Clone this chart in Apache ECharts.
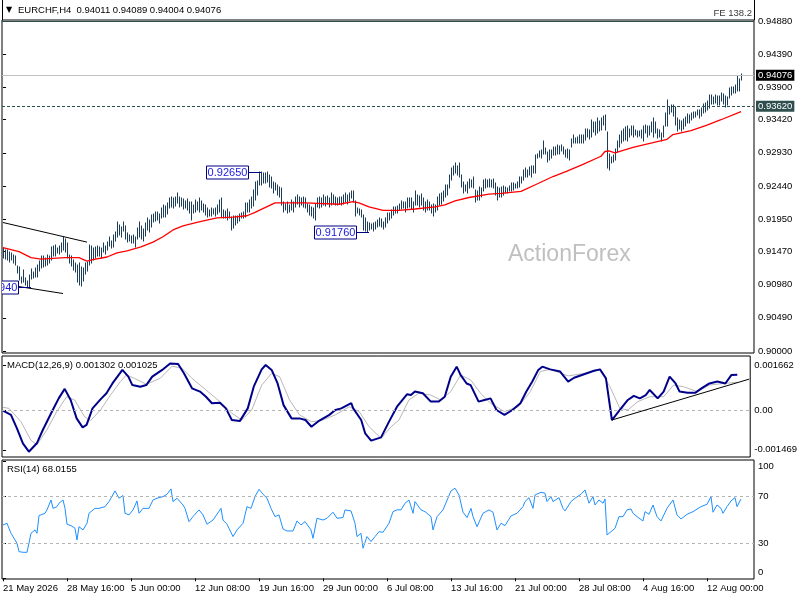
<!DOCTYPE html>
<html><head><meta charset="utf-8">
<script src="https://cdn.jsdelivr.net/npm/echarts@6/dist/echarts.min.js"></script>
<style>html,body{margin:0;padding:0;background:#fff}#c{width:800px;height:600px}</style>
</head><body><div id="c"></div>
<script>
// ---------------- data ----------------
const symbolName = 'EURCHF,H4';
const lastOHLC = ['0.94011', '0.94089', '0.94004', '0.94076'];
const macdTitle = 'MACD(12,26,9) 0.001302 0.001025';
const rsiTitle = 'RSI(14) 68.0155';
const watermark = 'ActionForex';

const timeLabels = ['21 May 2026', '28 May 16:00', '5 Jun 00:00', '12 Jun 08:00', '19 Jun 16:00', '29 Jun 00:00',
  '6 Jul 08:00', '13 Jul 16:00', '21 Jul 00:00', '28 Jul 08:00', '4 Aug 16:00', '12 Aug 00:00'];
const timeTickBars = [0, 32, 64, 96, 128, 160, 192, 224, 256, 288, 320, 352];
const priceTicks = [0.90000, 0.90490, 0.90980, 0.91470, 0.91950, 0.92440, 0.92930, 0.93420, 0.93900, 0.94390, 0.94880];
const macdTicks = [0.001662, 0, -0.001469];
const rsiTicks = [100, 70, 30, 0];
const rsiLevels = [70, 30];

const currentPrice = 0.94076;
const levelPrice = 0.93620;
const feLevel = 0.94880;
const feText = 'FE 138.2';

const barLow = [
0.9138,0.9136,0.9135,0.9132,0.9134,0.9130,0.9127,0.9115,0.9105,0.9100,
0.9102,0.9097,0.9095,0.9094,0.9106,0.9108,0.9110,0.9110,0.9118,0.9122,
0.9124,0.9126,0.9127,0.9130,0.9135,0.9141,0.9140,0.9145,0.9144,0.9146,
0.9150,0.9147,0.9138,0.9130,0.9126,0.9120,0.9117,0.9102,0.9097,0.9096,
0.9104,0.9114,0.9118,0.9127,0.9130,0.9135,0.9137,0.9140,0.9141,0.9138,
0.9146,0.9143,0.9149,0.9155,0.9152,0.9154,0.9163,0.9169,0.9172,0.9169,
0.9178,0.9165,0.9161,0.9163,0.9160,0.9159,0.9154,0.9166,0.9169,0.9166,
0.9163,0.9170,0.9179,0.9176,0.9183,0.9191,0.9192,0.9194,0.9190,0.9196,
0.9198,0.9198,0.9203,0.9211,0.9213,0.9211,0.9215,0.9219,0.9213,0.9214,
0.9210,0.9212,0.9208,0.9204,0.9194,0.9204,0.9206,0.9208,0.9206,0.9208,
0.9205,0.9201,0.9198,0.9200,0.9199,0.9203,0.9199,0.9202,0.9205,0.9198,
0.9196,0.9197,0.9194,0.9197,0.9179,0.9182,0.9186,0.9189,0.9192,0.9196,
0.9196,0.9198,0.9206,0.9206,0.9212,0.9215,0.9224,0.9230,0.9246,0.9246,
0.9248,0.9248,0.9250,0.9243,0.9241,0.9233,0.9238,0.9231,0.9228,0.9216,
0.9206,0.9209,0.9204,0.9206,0.9209,0.9206,0.9213,0.9218,0.9213,0.9216,
0.9213,0.9211,0.9206,0.9201,0.9199,0.9196,0.9194,0.9213,0.9211,0.9213,
0.9216,0.9215,0.9218,0.9213,0.9216,0.9218,0.9216,0.9216,0.9217,0.9216,
0.9218,0.9221,0.9218,0.9222,0.9226,0.9221,0.9200,0.9204,0.9201,0.9198,
0.9179,0.9178,0.9176,0.9179,0.9180,0.9178,0.9181,0.9184,0.9185,0.9184,
0.9180,0.9184,0.9189,0.9193,0.9196,0.9201,0.9204,0.9204,0.9208,0.9210,
0.9211,0.9206,0.9211,0.9213,0.9210,0.9206,0.9216,0.9216,0.9213,0.9216,
0.9209,0.9206,0.9209,0.9209,0.9204,0.9199,0.9206,0.9209,0.9216,0.9218,
0.9222,0.9228,0.9231,0.9241,0.9253,0.9260,0.9263,0.9260,0.9258,0.9243,
0.9233,0.9236,0.9233,0.9241,0.9243,0.9241,0.9221,0.9223,0.9223,0.9228,
0.9236,0.9241,0.9243,0.9242,0.9243,0.9241,0.9231,0.9223,0.9228,0.9228,
0.9231,0.9233,0.9233,0.9236,0.9236,0.9238,0.9241,0.9241,0.9243,0.9248,
0.9253,0.9258,0.9258,0.9260,0.9258,0.9263,0.9263,0.9285,0.9287,0.9285,
0.9292,0.9292,0.9280,0.9283,0.9286,0.9290,0.9290,0.9292,0.9291,0.9296,
0.9292,0.9287,0.9285,0.9283,0.9302,0.9307,0.9307,0.9308,0.9307,0.9308,
0.9307,0.9312,0.9316,0.9313,0.9317,0.9324,0.9319,0.9322,0.9325,0.9327,
0.9334,0.9327,0.9270,0.9268,0.9278,0.9280,0.9283,0.9295,0.9301,0.9307,
0.9310,0.9312,0.9310,0.9317,0.9320,0.9317,0.9320,0.9317,0.9318,0.9315,
0.9310,0.9322,0.9317,0.9320,0.9324,0.9317,0.9322,0.9315,0.9316,0.9311,
0.9317,0.9333,0.9332,0.9351,0.9353,0.9347,0.9334,0.9326,0.9329,0.9326,
0.9329,0.9333,0.9337,0.9337,0.9342,0.9344,0.9346,0.9349,0.9344,0.9348,
0.9352,0.9353,0.9356,0.9359,0.9366,0.9366,0.9367,0.9364,0.9364,0.9369,
0.9366,0.9361,0.9364,0.9374,0.9379,0.9381,0.9381,0.9384,0.9385,0.94004];

const barHigh = [
0.9152,0.9150,0.9149,0.9146,0.9145,0.9142,0.9140,0.9126,0.9124,0.9110,
0.9120,0.9108,0.9103,0.9112,0.9121,0.9117,0.9122,0.9127,0.9133,0.9140,
0.9141,0.9138,0.9142,0.9140,0.9154,0.9155,0.9157,0.9152,0.9155,0.9160,
0.9169,0.9165,0.9160,0.9142,0.9140,0.9135,0.9130,0.9127,0.9130,0.9124,
0.9123,0.9130,0.9132,0.9157,0.9155,0.9152,0.9154,0.9155,0.9154,0.9152,
0.9160,0.9155,0.9161,0.9168,0.9163,0.9172,0.9176,0.9191,0.9187,0.9183,
0.9191,0.9185,0.9175,0.9172,0.9170,0.9172,0.9169,0.9182,0.9191,0.9185,
0.9180,0.9190,0.9197,0.9193,0.9201,0.9203,0.9206,0.9206,0.9203,0.9212,
0.9216,0.9214,0.9219,0.9226,0.9228,0.9226,0.9228,0.9234,0.9228,0.9226,
0.9225,0.9222,0.9225,0.9220,0.9220,0.9216,0.9224,0.9220,0.9226,0.9222,
0.9218,0.9216,0.9211,0.9209,0.9211,0.9210,0.9211,0.9216,0.9223,0.9226,
0.9209,0.9207,0.9210,0.9205,0.9198,0.9200,0.9200,0.9199,0.9202,0.9204,
0.9205,0.9219,0.9219,0.9224,0.9228,0.9238,0.9250,0.9252,0.9265,0.9264,
0.9263,0.9263,0.9264,0.9260,0.9258,0.9250,0.9248,0.9246,0.9243,0.9241,
0.9221,0.9218,0.9221,0.9216,0.9223,0.9221,0.9228,0.9231,0.9228,0.9226,
0.9228,0.9226,0.9218,0.9216,0.9213,0.9211,0.9218,0.9226,0.9228,0.9226,
0.9231,0.9228,0.9229,0.9226,0.9233,0.9231,0.9228,0.9226,0.9227,0.9228,
0.9231,0.9233,0.9231,0.9233,0.9236,0.9236,0.9222,0.9211,0.9210,0.9209,
0.9201,0.9196,0.9191,0.9189,0.9188,0.9189,0.9191,0.9194,0.9196,0.9195,
0.9191,0.9196,0.9204,0.9204,0.9209,0.9213,0.9213,0.9214,0.9218,0.9222,
0.9221,0.9221,0.9226,0.9226,0.9226,0.9221,0.9236,0.9231,0.9229,0.9232,
0.9226,0.9221,0.9223,0.9221,0.9216,0.9217,0.9216,0.9228,0.9232,0.9234,
0.9236,0.9246,0.9246,0.9260,0.9270,0.9273,0.9278,0.9273,0.9278,0.9260,
0.9250,0.9246,0.9250,0.9255,0.9253,0.9258,0.9238,0.9236,0.9243,0.9241,
0.9253,0.9254,0.9253,0.9254,0.9253,0.9254,0.9248,0.9243,0.9241,0.9243,
0.9244,0.9243,0.9241,0.9244,0.9248,0.9248,0.9247,0.9250,0.9258,0.9258,
0.9268,0.9270,0.9267,0.9272,0.9274,0.9273,0.9290,0.9292,0.9296,0.9297,
0.9310,0.9300,0.9295,0.9297,0.9297,0.9302,0.9302,0.9305,0.9303,0.9305,
0.9301,0.9297,0.9298,0.9297,0.9314,0.9320,0.9315,0.9317,0.9320,0.9320,
0.9320,0.9329,0.9329,0.9327,0.9341,0.9339,0.9339,0.9344,0.9340,0.9344,
0.9347,0.9349,0.9324,0.9292,0.9287,0.9290,0.9298,0.9310,0.9320,0.9326,
0.9329,0.9331,0.9332,0.9329,0.9332,0.9332,0.9327,0.9326,0.9326,0.9327,
0.9333,0.9334,0.9332,0.9332,0.9339,0.9344,0.9339,0.9328,0.9327,0.9322,
0.9332,0.9352,0.9371,0.9361,0.9364,0.9364,0.9361,0.9344,0.9341,0.9340,
0.9343,0.9346,0.9351,0.9349,0.9352,0.9353,0.9354,0.9356,0.9356,0.9360,
0.9365,0.9367,0.9369,0.9379,0.9378,0.9375,0.9379,0.9377,0.9377,0.9381,
0.9380,0.9377,0.9376,0.9389,0.9391,0.9391,0.9393,0.9406,0.9402,0.94089];

// moving average [bar, price]
const maLine = [[0,0.9153],[8,0.9147],[14,0.9138],[19,0.9136],[31,0.9138],[38,0.9138],[42,0.9133],[45,0.9135],
[52,0.9139],[57,0.9145],[62,0.9148],[69,0.9154],[75,0.9161],[80,0.9169],[85,0.9179],[90,0.9185],[98,0.9191],
[107,0.9197],[115,0.9198],[122,0.9200],[126,0.9205],[131,0.9212],[136,0.9219],[151,0.9219],[168,0.9217],
[175,0.9221],[178,0.9219],[183,0.9213],[190,0.9208],[198,0.9208],[206,0.9210],[216,0.9213],[221,0.9216],
[226,0.9222],[233,0.9227],[243,0.9232],[249,0.9233],[259,0.9236],[267,0.9247],[275,0.9258],[282,0.9266],
[290,0.9276],[299,0.9288],[301,0.9295],[303,0.9296],[306,0.9293],[315,0.9301],[325,0.9308],[332,0.9313],
[335,0.9320],[344,0.9326],[352,0.9334],[359,0.9342],[369,0.9354]];

const channelUpper = [[0,0.9190],[42,0.9161]];
const channelLower = [[0,0.9099],[30,0.9085]];
const priceNotes = [[128,0.92650,'0.92650'],[182,0.91760,'0.91760'],[13,0.90940,'0.90940']];

const macdLine = [[0,-0.00002],[4,-0.00018],[7,-0.00068],[10,-0.00123],[13,-0.00154],[17,-0.00123],[20,-0.00074],
[25,0.00000],[28,0.00043],[31,0.00078],[34,0.00037],[37,-0.00031],[40,-0.00064],[42,-0.00055],[45,0.00006],
[49,0.00039],[52,0.00062],[55,0.00098],[60,0.00148],[63,0.00123],[65,0.00092],[69,0.00086],[72,0.00092],
[75,0.00123],[80,0.00148],[84,0.00172],[88,0.00170],[91,0.00135],[95,0.00080],[99,0.00068],[102,0.00049],
[105,0.00025],[109,0.00027],[112,0.00006],[115,-0.00037],[119,-0.00041],[123,0.00006],[126,0.00086],
[130,0.00150],[132,0.00166],[135,0.00148],[138,0.00098],[141,0.00018],[145,-0.00031],[149,-0.00031],
[152,-0.00037],[155,-0.00062],[159,-0.00039],[164,-0.00018],[167,0.00000],[170,0.00006],[175,0.00025],
[176,0.00006],[180,-0.00037],[182,-0.00086],[185,-0.00113],[190,-0.00101],[194,-0.00043],[198,0.00012],
[203,0.00058],[205,0.00055],[207,0.00068],[211,0.00062],[215,0.00031],[219,0.00031],[222,0.00049],
[225,0.00123],[228,0.00160],[230,0.00129],[233,0.00098],[235,0.00092],[239,0.00031],[242,0.00037],
[245,0.00043],[248,0.00000],[252,-0.00018],[256,0.00000],[260,0.00025],[263,0.00068],[266,0.00105],
[269,0.00148],[271,0.00160],[275,0.00150],[280,0.00142],[284,0.00105],[287,0.00119],[292,0.00132],
[297,0.00145],[300,0.00150],[303,0.00117],[306,-0.00037],[310,0.00000],[314,0.00037],[317,0.00052],
[320,0.00043],[323,0.00055],[325,0.00074],[329,0.00043],[332,0.00068],[335,0.00123],[338,0.00098],
[340,0.00068],[344,0.00064],[348,0.00064],[351,0.00080],[355,0.00098],[359,0.00105],[363,0.00098],
[366,0.00129],[369,0.001302]];

const signalLine = [[0,0.00010],[3,0.00006],[9,-0.00043],[14,-0.00111],[17,-0.00129],[22,-0.00074],[27,-0.00006],
[32,0.00049],[36,0.00037],[41,-0.00025],[44,-0.00039],[49,0.00000],[54,0.00055],[59,0.00105],[62,0.00129],
[66,0.00117],[72,0.00095],[79,0.00117],[85,0.00162],[90,0.00154],[95,0.00117],[102,0.00074],[109,0.00031],
[115,-0.00012],[120,-0.00037],[125,0.00000],[130,0.00092],[135,0.00135],[139,0.00123],[144,0.00037],
[149,-0.00018],[155,-0.00043],[160,-0.00039],[167,-0.00018],[174,0.00012],[179,-0.00006],[184,-0.00062],
[190,-0.00105],[195,-0.00062],[199,-0.00037],[204,0.00037],[209,0.00062],[215,0.00055],[220,0.00037],
[225,0.00068],[230,0.00129],[235,0.00111],[240,0.00062],[245,0.00025],[252,-0.00006],[259,0.00012],
[265,0.00068],[270,0.00142],[275,0.00150],[284,0.00126],[292,0.00135],[300,0.00148],[305,0.00086],
[310,0.00006],[314,0.00000],[319,0.00031],[325,0.00049],[332,0.00049],[337,0.00092],[342,0.00086],
[349,0.00068],[355,0.00092],[362,0.00098],[369,0.001025]];

const macdTrend = [[306,-0.00037],[375,0.00114]];

const rsiLine = [[0,45.8],[2,47.2],[4,38.6],[5,40],[7,30],[8,22.9],[10,22.3],[12,22.3],[13,20.6],[14,38.6],
[16,41.5],[17,38.6],[18,53.8],[21,55.8],[22,58.7],[24,67.2],[25,60],[27,61.5],[28,64.4],[29,63],[30,67.2],
[31,60],[32,46.4],[34,45.2],[36,42.9],[37,32.9],[38,44.3],[40,41.5],[42,47.2],[43,55.8],[46,60],[48,60],
[51,61.5],[53,65.8],[56,75],[58,68.7],[60,71],[61,55.8],[63,54.4],[65,58.7],[67,66.4],[68,55.8],[70,60],
[71,61.5],[73,60],[75,67.2],[77,68.7],[80,70.1],[82,72.1],[84,76.7],[85,65.8],[87,68.7],[90,62.9],[91,60],
[93,48.6],[95,52.9],[98,58.7],[100,54.4],[102,46.4],[105,50],[109,60],[110,50],[112,46.4],[115,35.8],
[117,41.5],[120,47.2],[122,61.5],[124,60],[126,70.1],[128,76.4],[130,72.1],[132,68.7],[134,60],[136,52.9],
[138,54.4],[140,42.3],[142,40.6],[145,40.6],[147,49.2],[149,45.8],[151,48.6],[154,41.5],[155,34.3],
[157,51.5],[160,50],[162,51.5],[165,56.7],[167,51.5],[170,52.1],[171,58.7],[174,57.8],[176,47.2],
[177,35.8],[179,38.6],[180,25.8],[182,35.8],[184,31.5],[186,35.8],[188,40],[190,39.5],[193,47.2],
[195,57.2],[197,58.7],[199,58.7],[201,64.4],[203,67.2],[205,55.8],[206,65.8],[209,58.7],[211,57.2],
[214,52.9],[215,41.5],[217,52.9],[220,58.7],[221,60],[224,75],[226,77.3],[228,71.5],[230,56.7],[232,52.1],
[234,60],[235,52.9],[237,44.3],[240,55.8],[243,58.7],[245,56.7],[247,41.5],[249,47.2],[251,45.2],
[252,44.3],[254,53.5],[257,55.8],[260,61.5],[261,65.8],[263,69.2],[265,60],[266,71.5],[269,73.8],[271,73],
[272,65.8],[274,70.1],[275,65.8],[278,69.2],[280,60],[281,57.8],[284,65.8],[286,68.7],[289,72.1],
[291,75.8],[293,64.4],[295,70.1],[296,62.9],[298,67.2],[300,64.4],[301,68.1],[302,37.2],[304,40],
[306,42.9],[308,52.9],[310,52.9],[312,58.7],[314,59.5],[315,55.8],[317,52.9],[320,49.2],[321,57.2],
[323,54.9],[325,62.9],[327,52.9],[329,49.2],[332,60],[335,67.2],[336,66.4],[337,54.4],[339,50.9],
[342,54.9],[345,57.2],[349,61.5],[352,63.5],[354,70.1],[355,56.7],[357,62.9],[359,60],[360,55.8],
[362,61.5],[364,66.4],[366,69.2],[367,61.5],[369,68.0155]];

// ---------------- chart ----------------
const FONT = 'Liberation Sans';
const FS = 9.5;
const barColor = '#1b3d5a';
const chart = echarts.init(document.getElementById('c'), null, {renderer: 'canvas'});
const barData = barHigh.map((h, i) => [i, barLow[i], h]);

function xAxisFor(gi, withLabels) {
  return {
    type: 'value', gridIndex: gi, min: -0.5, max: 375.5,
    splitLine: {show: false}, axisLine: {show: false},
    axisTick: {show: withLabels, customValues: timeTickBars, length: 3, lineStyle: {color: '#000'}},
    axisLabel: {show: withLabels, customValues: timeTickBars, align: 'left', margin: 4,
      fontSize: FS, fontFamily: FONT, color: '#000',
      formatter: v => timeLabels[timeTickBars.indexOf(Math.round(v))] || ''}
  };
}
const labelBase = {fontSize: FS, fontFamily: FONT, color: '#000', margin: 4};
const tStyle = {fontSize: FS, color: '#000', fontWeight: 'normal', fontFamily: FONT};

const option = {
  animation: false,
  backgroundColor: '#fff',
  title: [
    {text: '\u25BC', left: 6, top: 6, padding: 0, textStyle: {fontSize: 8, color: '#000', fontWeight: 'normal', fontFamily: 'DejaVu Sans'}},
    {text: symbolName + '  ' + lastOHLC.join(' '), left: 18, top: 5, padding: 0, textStyle: tStyle},
    {text: macdTitle, left: 7, top: 360, padding: 0, textStyle: tStyle},
    {text: rsiTitle, left: 7, top: 464, padding: 0, textStyle: tStyle},
    {text: watermark, left: 508, top: 243, padding: 0, textStyle: {fontSize: 23, color: '#c0c0c0', fontWeight: 'normal', fontFamily: FONT}}
  ],
  graphic: [
    {type: 'line', shape: {x1: 2.5, y1: 0, x2: 2.5, y2: 20}, style: {stroke: '#000', lineWidth: 1}, silent: true},
    {type: 'line', shape: {x1: 754.5, y1: 0, x2: 754.5, y2: 20}, style: {stroke: '#000', lineWidth: 1}, silent: true}
  ],
  grid: [
    {left: 2, right: 46, top: 20, height: 333, show: true, borderColor: '#000', borderWidth: 1, backgroundColor: 'transparent'},
    {left: 2, right: 46, top: 356, height: 101, show: true, borderColor: '#000', borderWidth: 1, backgroundColor: 'transparent'},
    {left: 2, right: 46, top: 460, height: 119, show: true, borderColor: '#000', borderWidth: 1, backgroundColor: 'transparent'}
  ],
  xAxis: [xAxisFor(0, false), xAxisFor(1, false), xAxisFor(2, true)],
  yAxis: [
    {type: 'value', gridIndex: 0, position: 'right', min: 0.899704, max: 0.948948,
      splitLine: {show: false}, axisLine: {show: false},
      axisTick: {show: true, customValues: priceTicks, length: 3, lineStyle: {color: '#000'}},
      axisLabel: Object.assign({}, labelBase, {customValues: priceTicks, formatter: v => v.toFixed(5)})},
    {type: 'value', gridIndex: 1, position: 'right', min: -0.001736, max: 0.001994,
      splitLine: {show: false}, axisLine: {show: false},
      axisTick: {show: true, customValues: macdTicks, length: 3, lineStyle: {color: '#000'}},
      axisLabel: Object.assign({}, labelBase, {customValues: macdTicks, formatter: v => v === 0 ? '0.00' : v.toFixed(6)})},
    {type: 'value', gridIndex: 2, position: 'right', min: -0.6, max: 101.5,
      splitLine: {show: false}, axisLine: {show: false},
      axisTick: {show: true, customValues: rsiTicks, length: 3, lineStyle: {color: '#000'}},
      axisLabel: Object.assign({}, labelBase, {customValues: rsiTicks,
        formatter: v => v === 100 ? '{t|100}' : (v === 0 ? '{b|0}' : String(v)),
        rich: {t: {padding: [10, 0, 0, 0], fontSize: FS, fontFamily: FONT}, b: {padding: [0, 0, 12, 0], fontSize: FS, fontFamily: FONT}}})}
  ],
  series: [
    {
      type: 'custom', name: 'bars', xAxisIndex: 0, yAxisIndex: 0, data: barData, clip: true, z: 3,
      encode: {x: 0, y: [1, 2]},
      renderItem: (params, api) => {
        const i = api.value(0);
        const lo = api.coord([i, api.value(1)]);
        const hi = api.coord([i, api.value(2)]);
        const x = Math.round(lo[0]) + 0.5;
        return {type: 'line', shape: {x1: x, y1: Math.round(lo[1]) + 0.5, x2: x, y2: Math.round(hi[1]) - 0.5},
          style: {stroke: barColor, lineWidth: 1}};
      }
    },
    {type: 'line', name: 'MA', xAxisIndex: 0, yAxisIndex: 0, data: maLine, showSymbol: false, z: 4,
      lineStyle: {color: '#ff0000', width: 1.3},
      markLine: {
        silent: true, symbol: ['none', 'none'], animation: false, precision: 6,
        data: [
          {yAxis: feLevel, lineStyle: {color: '#2f4f4f', type: 'solid', width: 1},
            label: {show: true, position: 'insideEndTop', distance: [2, 3], formatter: feText, color: '#3a3a3a', fontSize: FS, fontFamily: FONT}},
          {yAxis: currentPrice, lineStyle: {color: '#c0c0c0', type: 'solid', width: 1},
            label: {show: true, position: 'end', distance: 2, formatter: currentPrice.toFixed(5), color: '#fff',
              backgroundColor: '#000', padding: [1, 2, 0, 2], fontSize: FS, fontFamily: FONT}},
          {yAxis: levelPrice, lineStyle: {color: '#2f4f4f', type: [3, 2], width: 1},
            label: {show: true, position: 'end', distance: 2, formatter: levelPrice.toFixed(5), color: '#fff',
              backgroundColor: '#2f4f4f', padding: [1, 2, 0, 2], fontSize: FS, fontFamily: FONT}}
        ]
      }},
    {type: 'line', name: 'chanU', xAxisIndex: 0, yAxisIndex: 0, data: channelUpper, showSymbol: false, z: 4,
      lineStyle: {color: '#000', width: 1}},
    {type: 'line', name: 'chanL', xAxisIndex: 0, yAxisIndex: 0, data: channelLower, showSymbol: false, z: 4,
      lineStyle: {color: '#000', width: 1}},
    {
      type: 'custom', name: 'notes', xAxisIndex: 0, yAxisIndex: 0, data: priceNotes.map(n => [n[0], n[1]]), clip: true, z: 5,
      renderItem: (params, api) => {
        const p = api.coord([api.value(0), api.value(1)]);
        const x = Math.round(p[0]) + 1, y = Math.round(p[1]) + 0.5;
        const txt = priceNotes[params.dataIndex][2];
        return {type: 'group', children: [
          {type: 'line', shape: {x1: x - 11, y1: y, x2: x + 1, y2: y}, style: {stroke: '#000080', lineWidth: 1}},
          {type: 'rect', shape: {x: x - 53.5, y: y - 6.5, width: 42, height: 13}, style: {fill: '#fff', stroke: '#000080', lineWidth: 1}},
          {type: 'text', style: {text: txt, x: x - 32.5, y: y + 0.5, align: 'center', verticalAlign: 'middle',
            fill: '#1a1ae0', font: '11px "Liberation Sans"'}}
        ]};
      }
    },
    {type: 'line', name: 'MACD', xAxisIndex: 1, yAxisIndex: 1, data: macdLine, showSymbol: false, z: 4,
      lineStyle: {color: '#00008b', width: 2},
      markLine: {silent: true, symbol: ['none', 'none'], label: {show: false}, precision: 6,
        lineStyle: {color: '#b4b4b4', type: [3, 3], width: 1}, data: [{yAxis: 0}]}},
    {type: 'line', name: 'Signal', xAxisIndex: 1, yAxisIndex: 1, data: signalLine, showSymbol: false, z: 3,
      lineStyle: {color: '#b8b8b8', width: 1}},
    {type: 'line', name: 'MACDtrend', xAxisIndex: 1, yAxisIndex: 1, data: macdTrend, showSymbol: false, z: 5,
      lineStyle: {color: '#000', width: 1}},
    {type: 'line', name: 'RSI', xAxisIndex: 2, yAxisIndex: 2, data: rsiLine, showSymbol: false, z: 4,
      lineStyle: {color: '#1e90ff', width: 1},
      markLine: {silent: true, symbol: ['none', 'none'], label: {show: false},
        lineStyle: {color: '#b4b4b4', type: [3, 3], width: 1}, data: rsiLevels.map(v => ({yAxis: v}))}}
  ]
};
chart.setOption(option);
</script>
</body></html>
